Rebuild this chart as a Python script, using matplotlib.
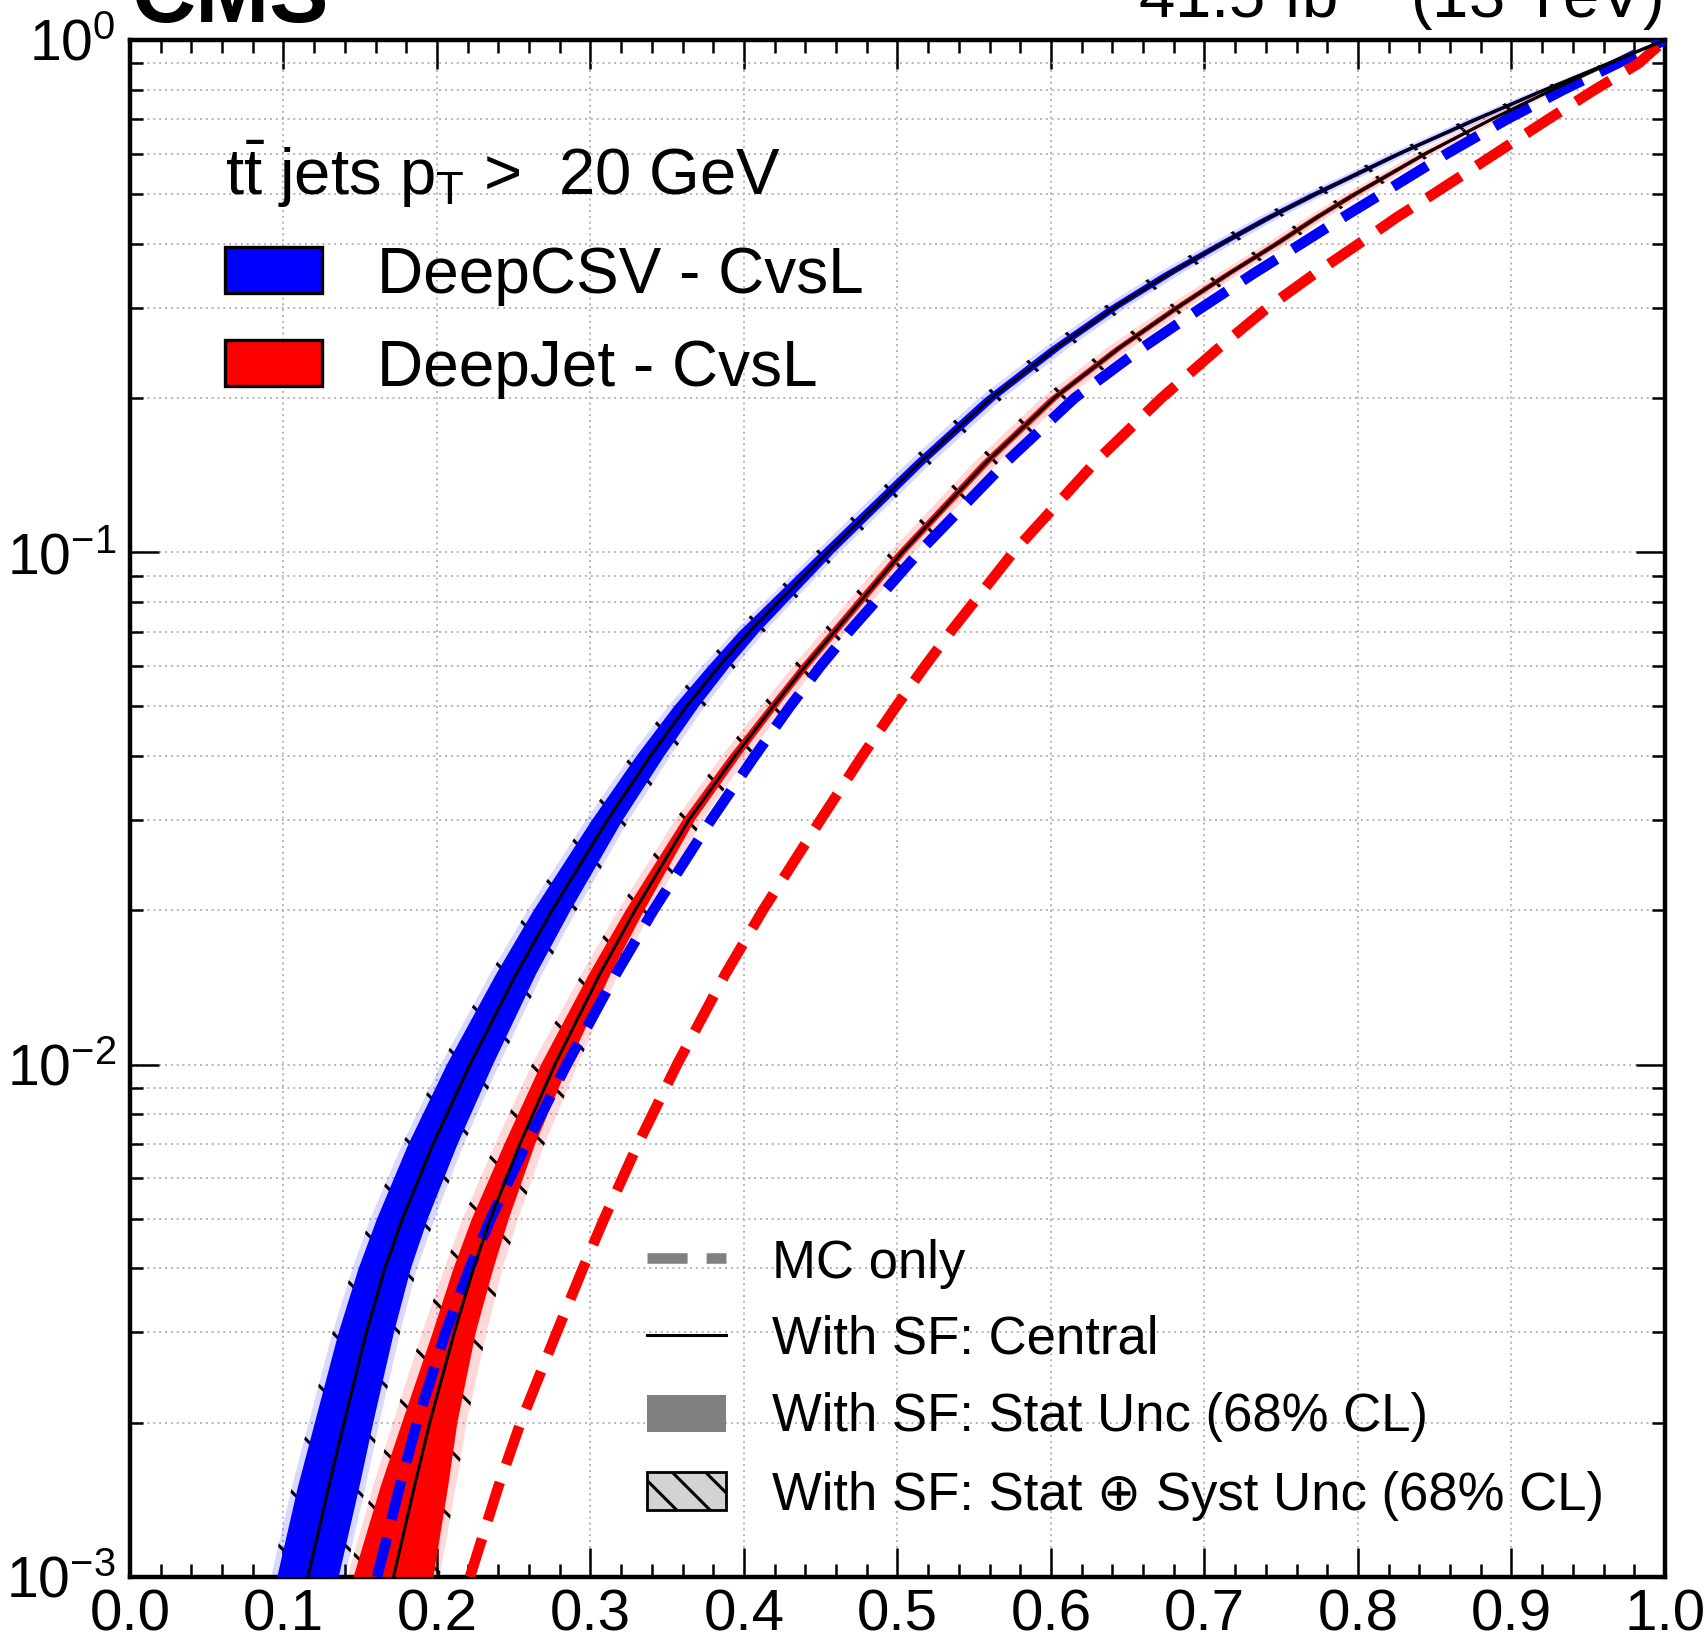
import matplotlib
matplotlib.use("Agg")
import matplotlib.pyplot as plt
from matplotlib.patches import Rectangle
from matplotlib.lines import Line2D
from matplotlib.ticker import MultipleLocator, FormatStrFormatter, LogLocator, NullFormatter

plt.rcParams['font.family'] = ['Liberation Sans', 'DejaVu Sans']
plt.rcParams['mathtext.fontset'] = 'custom'
plt.rcParams['mathtext.rm'] = 'Liberation Sans'
plt.rcParams['mathtext.it'] = 'Liberation Sans:italic'
plt.rcParams['mathtext.bf'] = 'Liberation Sans:bold'
plt.rcParams['hatch.linewidth'] = 1.1
plt.rcParams['hatch.color'] = 'black'

# light-jet mistag rate (y) at which the c-jet efficiency (x) of each curve is read
mistag = [0.001, 0.0015, 0.002, 0.003, 0.004, 0.005, 0.007, 0.01, 0.015, 0.02,
          0.03, 0.04, 0.05, 0.06, 0.07, 0.1, 0.15, 0.2, 0.25, 0.3,
          0.35, 0.4, 0.45, 0.5, 0.6, 0.7, 0.8, 0.9, 1.0]

# c efficiency, with SF (central)
deepcsv_sf = [0.116, 0.1295, 0.1395, 0.154, 0.166, 0.1775, 0.1975, 0.2215, 0.2515, 0.275,
              0.311, 0.339, 0.3625, 0.384, 0.4035, 0.4545, 0.515, 0.561, 0.603, 0.641,
              0.677, 0.711, 0.742, 0.772, 0.827, 0.877, 0.922, 0.963, 1.0]
deepjet_sf = [0.1717, 0.1853, 0.1953, 0.2113, 0.2238, 0.2348, 0.254, 0.2768, 0.306, 0.329,
              0.364, 0.394, 0.419, 0.440, 0.459, 0.503, 0.558, 0.602, 0.644, 0.682,
              0.716, 0.747, 0.773, 0.798, 0.844, 0.887, 0.927, 0.964, 1.0]

# c efficiency, MC only
deepcsv_mc = [0.161, 0.1757, 0.187, 0.2056, 0.2212, 0.235, 0.2582, 0.2845, 0.3165, 0.341,
              0.3785, 0.407, 0.430, 0.450, 0.4685, 0.514, 0.5708, 0.6154, 0.659, 0.698,
              0.732, 0.763, 0.790, 0.815, 0.858, 0.897, 0.934, 0.969, 1.0]
deepjet_mc = [0.2215, 0.240, 0.2545, 0.278, 0.2951, 0.3089, 0.331, 0.3564, 0.3878, 0.4123,
              0.4498, 0.477, 0.4991, 0.518, 0.5347, 0.5755, 0.6289, 0.672, 0.709, 0.741,
              0.772, 0.8005, 0.825, 0.849, 0.8896, 0.9239, 0.9544, 0.9828, 1.0]

# half widths (in c efficiency) of the uncertainty bands
deepcsv_stat = [0.020, 0.020, 0.019, 0.018, 0.017, 0.0165, 0.016, 0.015, 0.013, 0.012,
                0.010, 0.009, 0.008, 0.007, 0.0065, 0.0045, 0.004, 0.004, 0.004, 0.004,
                0.004, 0.0035, 0.0035, 0.0035, 0.003, 0.003, 0.0025, 0.0015, 0.0]
deepcsv_tot = [0.024, 0.024, 0.023, 0.022, 0.021, 0.021, 0.020, 0.019, 0.017, 0.016,
               0.014, 0.013, 0.012, 0.011, 0.010, 0.008, 0.008, 0.008, 0.008, 0.008,
               0.008, 0.0075, 0.0072, 0.007, 0.0065, 0.006, 0.005, 0.003, 0.0]
deepjet_stat = [0.026, 0.022, 0.018, 0.014, 0.013, 0.012, 0.010, 0.009, 0.007, 0.006,
                0.004, 0.0035, 0.003, 0.003, 0.003, 0.003, 0.003, 0.003, 0.003, 0.003,
                0.003, 0.003, 0.003, 0.003, 0.0025, 0.002, 0.002, 0.0015, 0.0]
deepjet_tot = [0.030, 0.027, 0.024, 0.021, 0.019, 0.018, 0.016, 0.015, 0.012, 0.011,
               0.009, 0.0085, 0.008, 0.008, 0.008, 0.008, 0.008, 0.008, 0.008, 0.0075,
               0.0072, 0.007, 0.0068, 0.0065, 0.006, 0.0055, 0.005, 0.003, 0.0]

W, H = 1705, 1637
fig = plt.figure(figsize=(W / 200, H / 200), dpi=200)
ax = fig.add_axes([0.0762, 0.0367, 0.9003, 0.9389])


def fx(px):
    return px / W


def fy(py):
    return 1 - py / H


def band(xc, half, **kw):
    lo = [c - h for c, h in zip(xc, half)]
    hi = [c + h for c, h in zip(xc, half)]
    ax.fill_betweenx(mistag, lo, hi, **kw)


# bands: stat+syst (light + hatch) below, stat (solid) on top
band(deepcsv_sf, deepcsv_tot, facecolor=(0, 0, 1, 0.15), edgecolor='black',
     hatch='\\', linewidth=0, zorder=2)
band(deepcsv_sf, deepcsv_stat, facecolor='blue', linewidth=0, zorder=3)
band(deepjet_sf, deepjet_tot, facecolor=(1, 0, 0, 0.15), edgecolor='black',
     hatch='\\', linewidth=0, zorder=2)
band(deepjet_sf, deepjet_stat, facecolor='red', linewidth=0, zorder=3)

ax.plot(deepcsv_mc, mistag, color='blue', lw=3.8, dashes=(3.8, 1.8), zorder=4)
ax.plot(deepjet_mc, mistag, color='red', lw=3.8, dashes=(3.8, 1.8), zorder=4)
ax.plot(deepcsv_sf, mistag, color='black', lw=1.1, zorder=5)
ax.plot(deepjet_sf, mistag, color='black', lw=1.1, zorder=5)

ax.set_yscale('log')
ax.set_xlim(0, 1)
ax.set_ylim(1e-3, 1)
ax.xaxis.set_major_locator(MultipleLocator(0.1))
ax.xaxis.set_minor_locator(MultipleLocator(0.02))
ax.xaxis.set_major_formatter(FormatStrFormatter('%.1f'))
ax.yaxis.set_minor_locator(LogLocator(base=10, subs=range(2, 10)))
ax.yaxis.set_minor_formatter(NullFormatter())

ax.tick_params(which='both', direction='in', top=True, right=True, width=0.9)
ax.tick_params(which='major', length=10.4)
ax.tick_params(which='minor', length=4.7)
ax.tick_params(axis='x', labelsize=21, pad=4)
ax.tick_params(axis='y', labelsize=20.5, pad=5)
for s in ax.spines.values():
    s.set_linewidth(1.6)

ax.set_axisbelow(True)
ax.grid(True, which='major', axis='x', color='#b4b4b4', lw=0.7, ls=(0, (1, 2)))
ax.grid(True, which='both', axis='y', color='#b4b4b4', lw=0.7, ls=(0, (1, 2)))

# header texts (partly above the canvas, as in the original crop)
fig.text(fx(131), fy(22), 'CMS', fontsize=32, fontweight='bold', ha='left', va='baseline')
fig.text(fx(1662), fy(18), r'41.5 fb$^{-1}$ (13 TeV)', fontsize=23.5, ha='right', va='baseline')

# upper legend
fig.text(fx(225), fy(195), r't$\bar{\mathrm{t}}$ jets p$_{\mathrm{T}}$ >  20 GeV',
         fontsize=23.5, ha='left', va='baseline')
top_entries = [('blue', 'DeepCSV - CvsL', 247, 293), ('red', 'DeepJet - CvsL', 340, 386)]
for col, lab, y0, y1 in top_entries:
    fig.patches.append(Rectangle((fx(225), fy(y1)), 97 / W, (y1 - y0) / H,
                                 facecolor=col, edgecolor='black', lw=1.2,
                                 transform=fig.transFigure))
    fig.text(fx(377), fy(y1), lab, fontsize=23, ha='left', va='baseline')

# lower legend
fig.lines.append(Line2D([fx(647), fx(726)], [fy(1258), fy(1258)], color='gray',
                        lw=3.8, dashes=(3.8, 1.8), transform=fig.transFigure))
fig.text(fx(772), fy(1278), 'MC only', fontsize=19, ha='left', va='baseline')
fig.lines.append(Line2D([fx(647), fx(726)], [fy(1335), fy(1335)], color='black',
                        lw=1.1, transform=fig.transFigure))
fig.text(fx(772), fy(1354), 'With SF: Central', fontsize=19, ha='left', va='baseline')
fig.patches.append(Rectangle((fx(647), fy(1432)), 79 / W, 37 / H, facecolor='gray',
                             lw=0, transform=fig.transFigure))
fig.text(fx(772), fy(1431), 'With SF: Stat Unc (68% CL)', fontsize=19, ha='left', va='baseline')
fig.patches.append(Rectangle((fx(647), fy(1510)), 79 / W, 38 / H, facecolor='#d3d3d3',
                             edgecolor='black', lw=1.0, hatch='\\\\', transform=fig.transFigure))
fig.text(fx(772), fy(1510), 'With SF: Stat \u2295 Syst Unc (68% CL)', fontsize=19,
         ha='left', va='baseline')

fig.savefig('out.png', dpi=200)
